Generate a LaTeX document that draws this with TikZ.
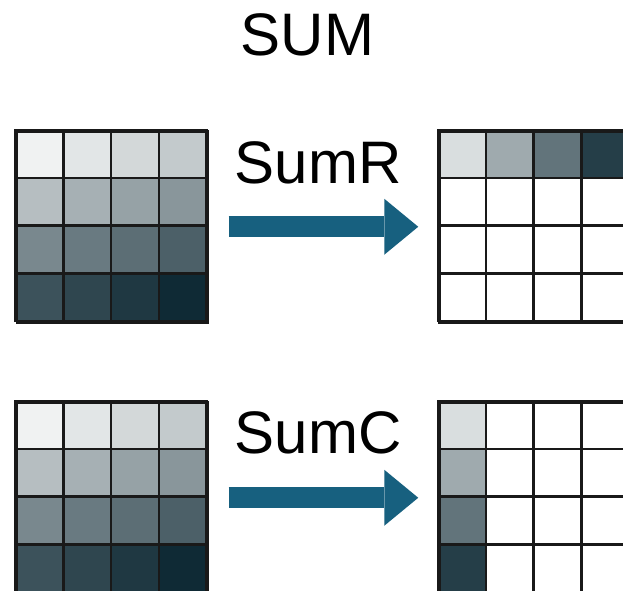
\documentclass[tikz,border=0pt]{standalone}
\usepackage{fontspec}
\setmainfont{Liberation Sans}
\usetikzlibrary{arrows.meta}

\definecolor{lightcell}{HTML}{F0F2F2}
\definecolor{darkcell}{HTML}{0F2A35}
\definecolor{flow}{HTML}{17607F}

\tikzset{
  cell/.style={draw=black!90, line width=2.5pt, minimum size=47.75pt, inner sep=0pt},
  matbox/.style={draw=black!90, line width=2.5pt, minimum size=191pt, inner sep=0pt, anchor=north west},
  title/.style={font=\fontsize{60}{72}\selectfont, anchor=base, inner sep=0pt},
  flowarrow/.style={draw=flow, line width=21pt,
    -{Triangle[length=34pt 0 0, width=56pt 0 0, line width=0pt 0 0]},
    shorten <=19.5pt, shorten >=19.75pt},
}

\begin{document}
\begin{tikzpicture}[x=1pt, y=-1pt]
  \clip (0,0) rectangle (623,590);
  \fill[white] (0,0) rectangle (623,590);

  % inputs: light to dark, row by row
  \foreach \g/\oy in {R/130, C/401} {
    \foreach \r in {1,...,4}
      \foreach \c in {1,...,4} {
        \pgfmathtruncatemacro\p{100*(4*(\r-1)+\c-1)/15}
        \node[cell, fill=darkcell!\p!lightcell] (in\g-\r-\c)
          at ({15.5+(\c-0.5)*47.75}, {\oy+(\r-0.5)*47.75}) {};
      }
    \node[matbox] (in\g) at (15.5,\oy) {};
  }

  % row sums: first row only
  \foreach \r in {1,...,4}
    \foreach \c in {1,...,4} {
      \pgfmathtruncatemacro\p{10+80*(\c-1)/3}
      \ifnum\r=1 \colorlet{cellfill}{darkcell!\p!lightcell}\else\colorlet{cellfill}{white}\fi
      \node[cell, fill=cellfill] (outR-\r-\c)
        at ({438+(\c-0.5)*47.75}, {130+(\r-0.5)*47.75}) {};
    }
  \node[matbox] (outR) at (438,130) {};

  % column sums: first column only
  \foreach \r in {1,...,4}
    \foreach \c in {1,...,4} {
      \pgfmathtruncatemacro\p{10+80*(\r-1)/3}
      \ifnum\c=1 \colorlet{cellfill}{darkcell!\p!lightcell}\else\colorlet{cellfill}{white}\fi
      \node[cell, fill=cellfill] (outC-\r-\c)
        at ({438+(\c-0.5)*47.75}, {401+(\r-0.5)*47.75}) {};
    }
  \node[matbox] (outC) at (438,401) {};

  \node[title] (sum) at (307.5,55) {SUM};
  \node[title] (sumR) at (318,183) {SumR};
  \node[title] (sumC) at (318,453) {SumC};

  \draw[flowarrow] (inR) -- (outR);
  \draw[flowarrow] (inC) -- (outC);
\end{tikzpicture}
\end{document}
